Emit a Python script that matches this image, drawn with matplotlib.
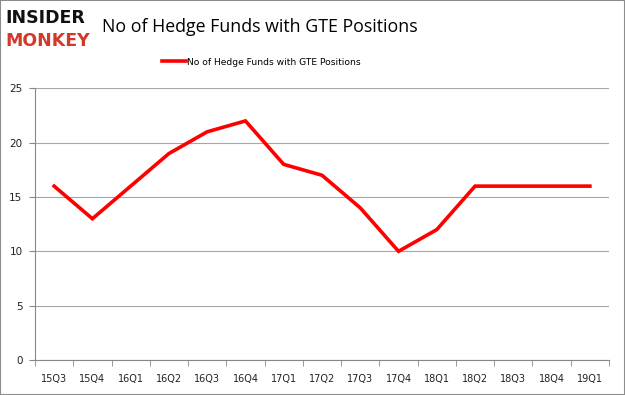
import matplotlib
matplotlib.use('Agg')
import matplotlib.pyplot as plt
from matplotlib.patches import Rectangle
import numpy as np

quarters = ['15Q3', '15Q4', '16Q1', '16Q2', '16Q3', '16Q4', '17Q1', '17Q2',
            '17Q3', '17Q4', '18Q1', '18Q2', '18Q3', '18Q4', '19Q1']
funds = [16, 13, 16, 19, 21, 22, 18, 17, 14, 10, 12, 16, 16, 16, 16]
yticks = [0, 5, 10, 15, 20, 25]
series_name = 'No of Hedge Funds with GTE Positions'

fig = plt.figure(figsize=(6.25, 3.95), dpi=100)
fig.patches.append(Rectangle((0, 0), 1, 1, transform=fig.transFigure,
                             fill=False, edgecolor='#8c8c8c', lw=1.5))
ax = fig.add_axes([0.056, 0.0886, 0.9184, 0.6878])

x = np.arange(len(quarters))
line, = ax.plot(x, funds, color='#ff0000', lw=2.6, solid_joinstyle='miter')

ax.set_xlim(-0.5, len(quarters) - 0.5)
ax.set_ylim(0, 25)
ax.set_yticks(yticks)
ax.set_yticklabels([str(v) for v in yticks], fontsize=7.5, color='#222222')
ax.set_xticks(x)
ax.set_xticklabels(quarters, fontsize=7, color='#222222')
ax.set_xticks(np.arange(-0.5, len(quarters)), minor=True)
ax.tick_params(axis='x', which='major', length=0, pad=10)
ax.tick_params(axis='x', which='minor', length=4, color='#888888')
ax.tick_params(axis='y', length=4, color='#888888', pad=5)
ax.grid(axis='y', color='#a6a6a6', lw=0.8)
ax.set_axisbelow(True)
for s in ('top', 'right'):
    ax.spines[s].set_visible(False)
ax.spines['left'].set_color('#888888')
ax.spines['bottom'].set_color('#888888')

fig.text(0.163, 0.932, 'No of Hedge Funds with GTE Positions', fontsize=12.8,
         family='Open Sans', va='center', ha='left', color='#000000')
fig.legend([line], [series_name], loc='center', bbox_to_anchor=(0.418, 0.843),
           frameon=False, fontsize=6.6, handlelength=2.6, handletextpad=0.1)

fig.text(0.008, 0.955, 'INSIDER', fontsize=12.5, weight='bold', color='#111111',
         va='center', ha='left', family='DejaVu Sans')
fig.text(0.008, 0.897, 'MONKEY', fontsize=12.5, weight='bold', color='#d0392b',
         va='center', ha='left', family='DejaVu Sans')

fig.savefig('out.png', dpi=100)
